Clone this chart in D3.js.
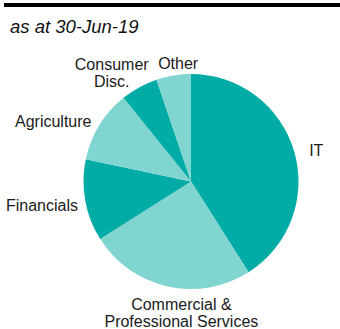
<!DOCTYPE html>
<html>
<head>
<meta charset="utf-8">
<script src="https://cdn.jsdelivr.net/npm/d3@7"></script>
<style>
  body { margin: 0; background: #fff; }
  svg { display: block; font-family: "Liberation Sans", Arial, sans-serif; }
</style>
</head>
<body>
<svg id="chart"></svg>
<script>
// sector weights (percent)
const sectors = ["IT", "Commercial & Professional Services", "Financials", "Agriculture", "Consumer Disc.", "Other"];
const weights = [41.0, 25.0, 12.3, 10.9, 5.6, 5.2];
// label lines as printed
const labelLines = [["IT"], ["Commercial &", "Professional Services"], ["Financials"], ["Agriculture"], ["Consumer", "Disc."], ["Other"]];
const subtitle = "as at 30-Jun-19";

const width = 340, height = 329;
const cx = 191, cy = 181.5, radius = 107.5;

const colors = ["#00aca5", "#80d5d0"];
// small nudges to match where the labels sit
const nudge = [[1, 4], [17, 13], [7, 2.5], [4.5, 4], [-20.5, -1.5], [7, 3]];

const svg = d3.select("#chart")
    .attr("width", width)
    .attr("height", height);

// heading rule
svg.append("rect")
    .attr("x", 4).attr("y", 3)
    .attr("width", width - 4).attr("height", 4)
    .attr("fill", "#000");

svg.append("text")
    .attr("x", 10).attr("y", 33)
    .attr("font-size", 18.5)
    .attr("font-style", "italic")
    .attr("fill", "#111")
    .text(subtitle);

const pie = d3.pie().sort(null).value(d => d);
const arcs = pie(weights);

const arc = d3.arc().innerRadius(0).outerRadius(radius);
const labelArc = d3.arc().innerRadius(122).outerRadius(122);

const g = svg.append("g")
    .attr("transform", `translate(${cx},${cy})`);

g.selectAll("path")
    .data(arcs)
    .join("path")
    .attr("d", arc)
    .attr("fill", (d, i) => colors[i % 2]);

const lineH = 17;
const labels = g.selectAll("text")
    .data(arcs)
    .join("text")
    .attr("font-size", 16)
    .attr("fill", "#1a1a1a")
    .attr("text-anchor", d => {
        const a = (d.startAngle + d.endAngle) / 2;
        const s = Math.sin(a);
        return Math.abs(s) < 0.5 ? "middle" : s > 0 ? "start" : "end";
    })
    .attr("transform", (d, i) => {
        const [x, y] = labelArc.centroid(d);
        return `translate(${x + nudge[i][0]},${y + nudge[i][1]})`;
    });

labels.selectAll("tspan")
    .data((d, i) => labelLines[i].map((t, j, arr) => ({ t, j, n: arr.length })))
    .join("tspan")
    .attr("x", 0)
    .attr("y", d => (d.j - (d.n - 1) / 2) * lineH + 5)
    .text(d => d.t);
</script>
</body>
</html>
